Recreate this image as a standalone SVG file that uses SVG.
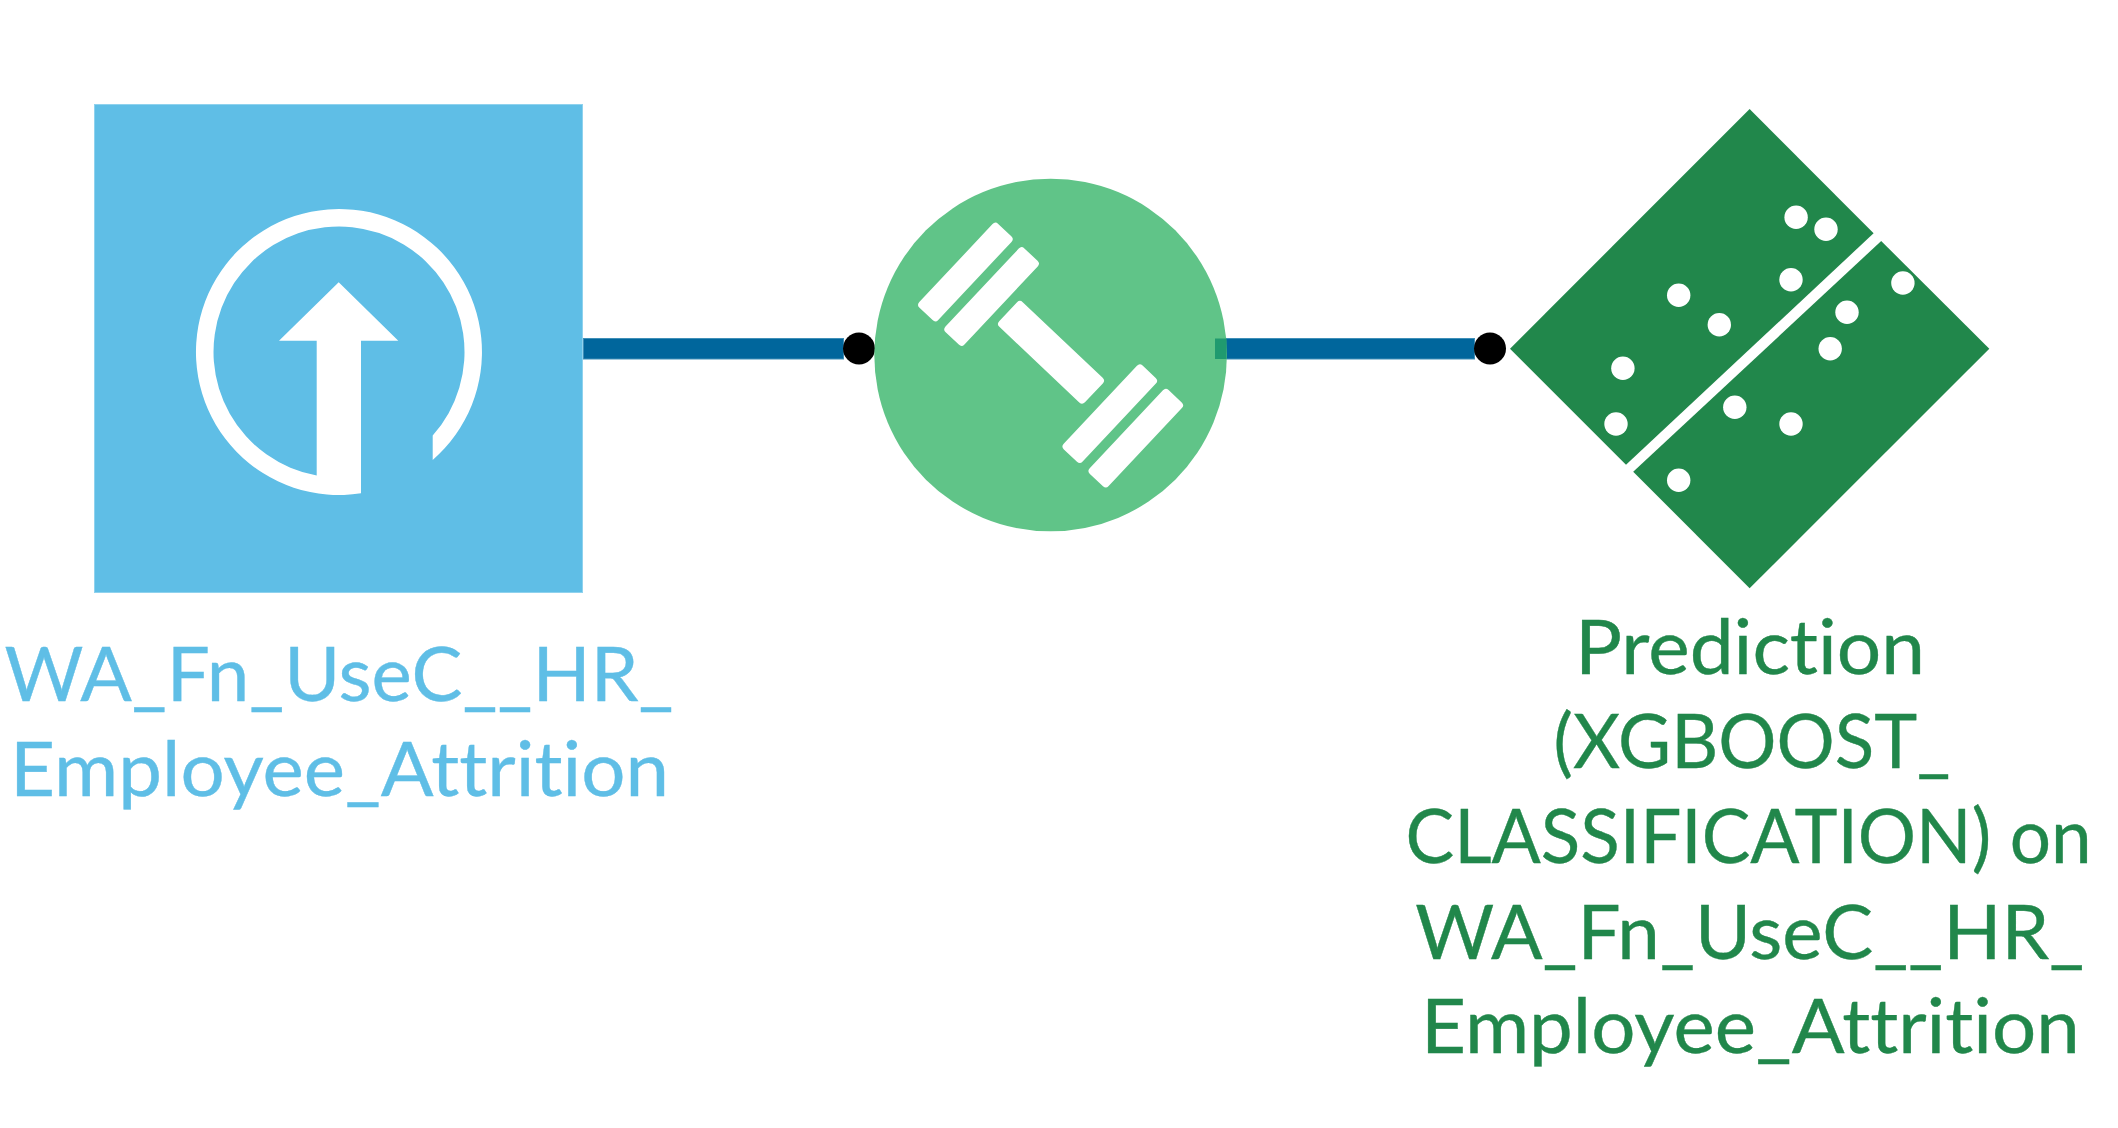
<svg xmlns="http://www.w3.org/2000/svg" width="2118" height="1128" viewBox="0 0 2118 1128">
<style>
.lbl{font-family:"Lato","Noto Sans","Liberation Sans",sans-serif;font-size:75px;text-anchor:middle;font-variant-ligatures:none;stroke-width:0.4}
.blue{fill:#5fbee6}
.lbl.blue{stroke:#5fbee6}
.green{fill:#21874b}
.lbl.green{stroke:#21874b}
.bar{fill:#00669c;stroke:#3f8fb8;stroke-width:1}
.dot{fill:#000}
.w{fill:#fff}
</style>
<defs>
<rect id="slab" class="w" x="-57.5" y="-13" width="115" height="26" rx="4"/>
<circle id="pt" class="w" r="11.7"/>
</defs>
<rect width="2118" height="1128" fill="#fff"/>
<g id="connectors">
<rect class="bar" x="583.5" y="338.5" width="260" height="20.5"/>
<rect class="bar" x="1215" y="338.5" width="259.5" height="20.5"/>
<circle class="dot" cx="859" cy="348.5" r="16"/>
<circle class="dot" cx="1490" cy="348.5" r="16"/>
</g>
<g id="node-dataset">
<rect class="blue" x="94.5" y="104.5" width="488" height="488" stroke="#8fd2ee" stroke-width="1"/>
<path class="w" d="M432.7 460A143 143 0 1 0 361 493.3V340.7H398.3L338.7 282.3L279 340.7H316.7V475.5A125.5 125.5 0 1 1 432.7 435.5Z"/>
<text class="lbl blue" x="339" y="701" textLength="669" lengthAdjust="spacingAndGlyphs">WA_Fn_UseC__HR_</text>
<text class="lbl blue" x="339.5" y="795.7" textLength="659" lengthAdjust="spacingAndGlyphs">Employee_Attrition</text>
</g>
<g id="node-train">
<circle cx="1050.6" cy="355" r="176.3" fill="#60c488"/>
<rect x="1215" y="338.5" width="11.5" height="20.5" fill="#209a6f"/>
<use href="#slab" transform="translate(965.4 272) rotate(-46.8)"/>
<use href="#slab" transform="translate(991.6 296.5) rotate(-46.8)"/>
<rect class="w" x="-59" y="-17" width="118" height="34" rx="4" transform="translate(1051 352.3) rotate(43.4)"/>
<use href="#slab" transform="translate(1109.8 413.7) rotate(-46.8)"/>
<use href="#slab" transform="translate(1135.8 438.2) rotate(-46.8)"/>
</g>
<g id="node-prediction">
<polygon class="green" points="1749.6,109 1873.6,233.3 1626,464.7 1510,348.7"/>
<polygon class="green" points="1881.2,241 1989.3,348.7 1749.6,588.3 1633.2,471.7"/>
<use href="#pt" x="1796.1" y="217.3"/>
<use href="#pt" x="1826" y="229.3"/>
<use href="#pt" x="1791" y="279.7"/>
<use href="#pt" x="1678.7" y="295.3"/>
<use href="#pt" x="1719.3" y="324.7"/>
<use href="#pt" x="1622.9" y="368.3"/>
<use href="#pt" x="1616" y="424"/>
<use href="#pt" x="1902.9" y="283"/>
<use href="#pt" x="1847" y="312.3"/>
<use href="#pt" x="1830.2" y="348.7"/>
<use href="#pt" x="1734.8" y="407.3"/>
<use href="#pt" x="1791" y="424"/>
<use href="#pt" x="1678.7" y="480.3"/>
<text class="lbl green" x="1750" y="674" textLength="350" lengthAdjust="spacingAndGlyphs">Prediction</text>
<text class="lbl green" x="1752" y="768.3" textLength="397" lengthAdjust="spacingAndGlyphs">(XGBOOST_</text>
<text class="lbl green" x="1748.6" y="863.3" textLength="686" lengthAdjust="spacingAndGlyphs">CLASSIFICATION) on</text>
<text class="lbl green" x="1749.7" y="958.7" textLength="669" lengthAdjust="spacingAndGlyphs">WA_Fn_UseC__HR_</text>
<text class="lbl green" x="1750.4" y="1053.3" textLength="659" lengthAdjust="spacingAndGlyphs">Employee_Attrition</text>
</g>
</svg>
